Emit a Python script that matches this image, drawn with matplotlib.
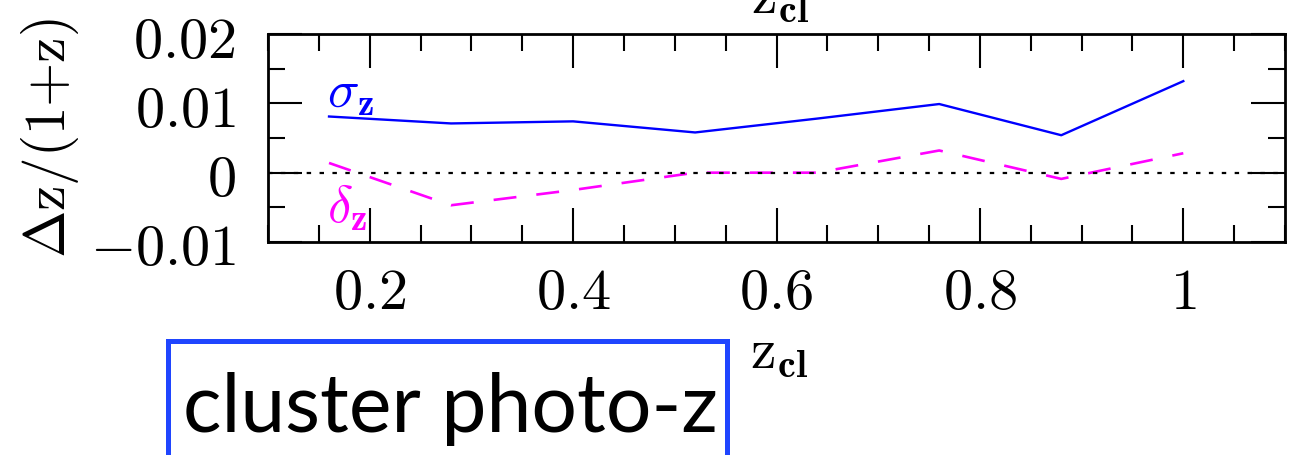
import matplotlib
matplotlib.use("Agg")
import matplotlib.pyplot as plt
from matplotlib.patches import Rectangle
from matplotlib.ticker import MultipleLocator, FixedLocator

plt.rcParams['mathtext.fontset'] = 'cm'

# values
z_cl = [0.16, 0.28, 0.40, 0.52, 0.64, 0.76, 0.88, 1.00]
sigma_z = [0.0081, 0.0071, 0.0074, 0.0058, 0.0078, 0.0099, 0.0054, 0.0132]
delta_z = [0.0014, -0.0047, -0.0025, 0.0000, 0.0000, 0.0032, -0.0009, 0.0028]

xticks = [0.2, 0.4, 0.6, 0.8, 1.0]
xtick_labels = ['0.2', '0.4', '0.6', '0.8', '1']
yticks = [-0.01, 0.0, 0.01, 0.02]
ytick_labels = ['-0.01', '0', '0.01', '0.02']

W, H = 1294, 456
fig = plt.figure(figsize=(W / 100, H / 100), dpi=100)
ax = fig.add_axes([268 / W, 1 - 243 / H, 1017 / W, 208 / H])

ax.plot(z_cl, sigma_z, color='#0000ff', lw=1.7)
ax.plot(z_cl, delta_z, color='#ff00ff', lw=1.9, dashes=(8.7, 7.6))
ax.axhline(0, color='black', lw=1.6, dashes=(2.0, 3.8))

ax.set_xlim(0.1, 1.1)
ax.set_ylim(-0.01, 0.02)

ax.xaxis.set_major_locator(FixedLocator(xticks))
ax.xaxis.set_minor_locator(MultipleLocator(0.05))
ax.yaxis.set_major_locator(FixedLocator(yticks))
ax.yaxis.set_minor_locator(MultipleLocator(0.005))
ax.set_xticklabels(['$\\mathrm{%s}$' % s for s in xtick_labels])
ax.set_yticklabels(['$\\mathrm{%s}$' % s for s in ytick_labels])

for sp in ax.spines.values():
    sp.set_linewidth(2.0)
ax.tick_params(which='both', direction='in', top=True, right=True, width=1.5)
ax.tick_params(which='major', length=24.5)
ax.tick_params(which='minor', length=12.2)
ax.tick_params(axis='x', which='major', labelsize=42, pad=15)
ax.tick_params(axis='y', which='major', labelsize=42, pad=23)

ax.text(0.1585, 0.0118, r'$\sigma_{\mathbf{z}}$', color='#0000ff', fontsize=38,
        ha='left', va='center')
ax.text(0.1585, -0.0048, r'$\delta_{\mathbf{z}}$', color='#ff00ff', fontsize=38,
        ha='left', va='center')

fig.text(50 / W, 1 - 138 / H, r'$\Delta\mathrm{z}/(1{+}\mathrm{z})$', fontsize=41,
         rotation=90, ha='center', va='center')

# axis label of the panel above (cut off at the top) and of this panel
fig.text(751 / W, 1 - 13 / H, r'$\mathrm{z}_{\mathbf{cl}}$', fontsize=41,
         ha='left', va='baseline')
fig.text(750 / W, 1 - 368 / H, r'$\mathrm{z}_{\mathbf{cl}}$', fontsize=41,
         ha='left', va='baseline')

fig.patches.append(Rectangle((168 / W, -0.05), 559 / W, (0.05 + 1 - 342 / H),
                             transform=fig.transFigure, fill=False,
                             edgecolor='#1f45ff', lw=3.6))
fig.text(183 / W, 1 - 432 / H, 'cluster photo-z', fontsize=58, family='Lato',
         ha='left', va='baseline')

fig.savefig('out.png', dpi=100)
